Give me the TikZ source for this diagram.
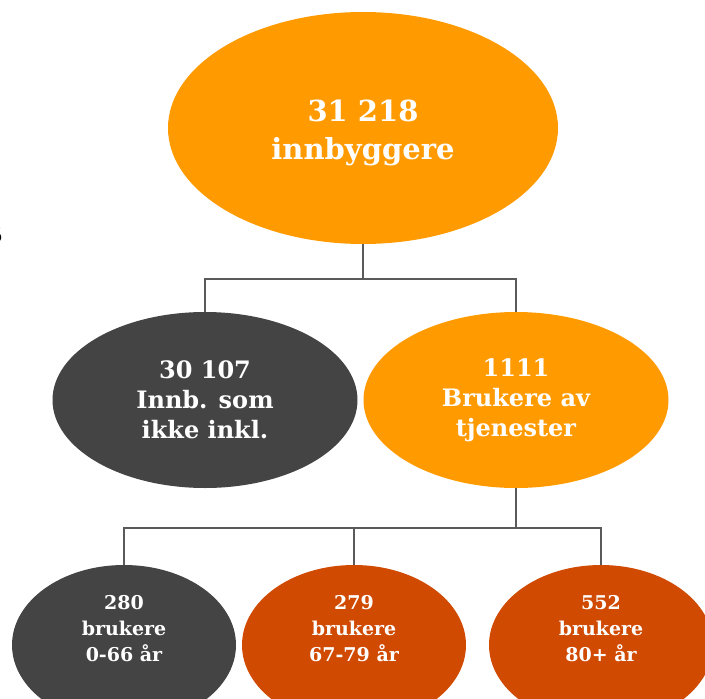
\documentclass[tikz,border=0pt]{standalone}
\usepackage{fontspec}
\setmainfont{DejaVu Serif}
\usetikzlibrary{shapes.geometric}
\definecolor{orangeA}{HTML}{FF9B00}
\definecolor{rustA}{HTML}{D04A02}
\definecolor{greyA}{HTML}{444444}
\definecolor{lineA}{HTML}{5A5A5A}
\begin{document}
\begin{tikzpicture}[x=1pt,y=-1pt]
\useasboundingbox (0,0) rectangle (705,699);
\tikzset{
  blob/.style={ellipse, draw=none, inner sep=0pt},
  blobtext/.style={text=white, align=center, inner sep=0pt},
  bigtxt/.style={font=\bfseries\fontsize{29}{38}\selectfont},
  midtxt/.style={font=\bfseries\fontsize{24}{30}\selectfont},
  smalltxt/.style={font=\bfseries\fontsize{19}{26}\selectfont},
  conn/.style={draw=lineA, line width=1.8pt},
}
% top
\node[blob, fill=orangeA, minimum width=390pt, minimum height=232pt] (top) at (363,128) {};
\node[blobtext, bigtxt] (topt) at (363,133) {31 218\\innbyggere};
% middle
\node[blob, fill=greyA, minimum width=305pt, minimum height=176pt] (m1) at (205,400) {};
\node[blobtext, midtxt] (m1t) at (205,400) {30 107\\Innb. som\\ikke inkl.};
\node[blob, fill=orangeA, minimum width=305pt, minimum height=176pt] (m2) at (516,400) {};
\node[blobtext, midtxt] (m2t) at (516,400) {1111\\Brukere av\\tjenester};
% bottom
\node[blob, fill=greyA, minimum width=224pt, minimum height=160pt] (b1) at (124,645) {};
\node[blobtext, smalltxt] (b1t) at (124,629) {280\\brukere\\0-66 år};
\node[blob, fill=rustA, minimum width=224pt, minimum height=160pt] (b2) at (354,645) {};
\node[blobtext, smalltxt] (b2t) at (354,629) {279\\brukere\\67-79 år};
\node[blob, fill=rustA, minimum width=224pt, minimum height=160pt] (b3) at (601,645) {};
\node[blobtext, smalltxt] (b3t) at (601,629) {552\\brukere\\80+ år};
% connectors
\draw[conn] (top.south) -- ++(0,35) -| (m1.north);
\draw[conn] (top.south) -- ++(0,35) -| (m2.north);
\draw[conn] (m2.south) -- ++(0,40) -| (b1.north);
\draw[conn] (m2.south) -- ++(0,40) -| (b2.north);
\draw[conn] (m2.south) -- ++(0,40) -| (b3.north);
% clipped fragment at left edge
\node[anchor=east, inner sep=0pt, font=\fontsize{20}{24}\selectfont, text=black] (frag) at (3,235) {5};
\end{tikzpicture}
\end{document}
